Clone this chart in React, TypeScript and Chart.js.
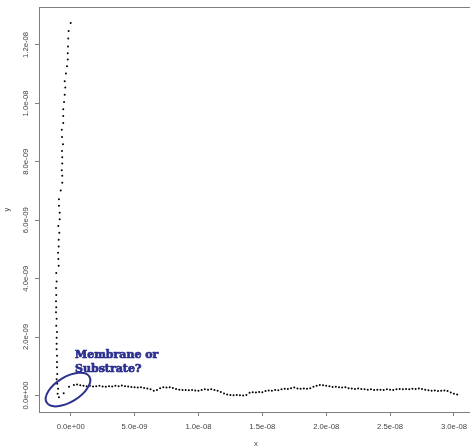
import React, { useEffect, useRef } from "react";
import { Chart, registerables } from "chart.js";

Chart.register(...registerables);

// Steep rising branch (x, y)
const riseX = [0.0, -0.16, -0.19, -0.21, -0.23, -0.23, -0.29, -0.37, -0.47, -0.42, -0.47, -0.52, -0.58, -0.58, -0.58, -0.70, -0.68, -0.60, -0.68, -0.66, -0.66, -0.70, -0.66, -0.66, -0.78, -0.92, -0.92, -0.86, -0.86, -0.97, -0.89, -0.94, -0.94, -0.99, -0.97, -0.94, -1.13, -1.10, -1.15, -1.13, -1.15, -1.13, -1.15, -1.10, -1.13, -1.07, -1.10, -1.10, -1.10, -1.07, -1.07, -1.07, -1.05, -1.10, -1.05, -0.99, -1.02, -0.92, -0.55, -0.13];
const riseY = [12.75, 12.48, 12.22, 11.95, 11.72, 11.50, 11.27, 11.02, 10.76, 10.54, 10.30, 10.05, 9.80, 9.57, 9.33, 9.10, 8.85, 8.60, 8.37, 8.16, 7.94, 7.71, 7.52, 7.28, 7.02, 6.72, 6.50, 6.26, 6.03, 5.80, 5.57, 5.33, 5.10, 4.89, 4.67, 4.44, 4.19, 3.90, 3.68, 3.44, 3.23, 3.02, 2.85, 2.63, 2.39, 2.17, 1.98, 1.77, 1.58, 1.36, 1.15, 0.97, 0.74, 0.56, 0.40, 0.23, 0.06, -0.06, 0.08, 0.30];

// Flat branch (x, y)
const flatX = [0.25, 0.5, 0.75, 1.0, 1.25, 1.5, 1.75, 2.0, 2.25, 2.5, 2.75, 3.0, 3.25, 3.5, 3.75, 4.0, 4.25, 4.5, 4.75, 5.0, 5.25, 5.5, 5.75, 6.0, 6.25, 6.5, 6.75, 7.0, 7.25, 7.5, 7.75, 8.0, 8.25, 8.5, 8.75, 9.0, 9.25, 9.5, 9.75, 10.0, 10.25, 10.5, 10.75, 11.0, 11.25, 11.5, 11.75, 12.0, 12.25, 12.5, 12.75, 13.0, 13.25, 13.5, 13.75, 14.0, 14.25, 14.5, 14.75, 15.0, 15.25, 15.5, 15.75, 16.0, 16.25, 16.5, 16.75, 17.0, 17.25, 17.5, 17.75, 18.0, 18.25, 18.5, 18.75, 19.0, 19.25, 19.5, 19.75, 20.0, 20.25, 20.5, 20.75, 21.0, 21.25, 21.5, 21.75, 22.0, 22.25, 22.5, 22.75, 23.0, 23.25, 23.5, 23.75, 24.0, 24.25, 24.5, 24.75, 25.0, 25.25, 25.5, 25.75, 26.0, 26.25, 26.5, 26.75, 27.0, 27.25, 27.5, 27.75, 28.0, 28.25, 28.5, 28.75, 29.0, 29.25, 29.5, 29.75, 30.0, 30.25];
const flatY = [0.36, 0.38, 0.35, 0.33, 0.32, 0.33, 0.31, 0.32, 0.33, 0.31, 0.30, 0.32, 0.31, 0.33, 0.32, 0.34, 0.32, 0.31, 0.29, 0.28, 0.27, 0.28, 0.26, 0.24, 0.21, 0.16, 0.19, 0.25, 0.28, 0.27, 0.28, 0.26, 0.22, 0.20, 0.19, 0.19, 0.18, 0.19, 0.17, 0.16, 0.19, 0.21, 0.20, 0.21, 0.19, 0.16, 0.12, 0.07, 0.03, 0.02, 0.01, 0.02, 0.01, 0.00, 0.02, 0.09, 0.11, 0.10, 0.12, 0.11, 0.15, 0.17, 0.16, 0.19, 0.18, 0.21, 0.23, 0.22, 0.25, 0.27, 0.24, 0.23, 0.24, 0.23, 0.25, 0.30, 0.33, 0.36, 0.35, 0.33, 0.32, 0.29, 0.30, 0.28, 0.27, 0.28, 0.25, 0.24, 0.22, 0.24, 0.22, 0.21, 0.20, 0.21, 0.19, 0.20, 0.20, 0.19, 0.21, 0.20, 0.19, 0.21, 0.22, 0.21, 0.22, 0.21, 0.23, 0.22, 0.24, 0.22, 0.20, 0.18, 0.16, 0.17, 0.15, 0.16, 0.17, 0.15, 0.10, 0.06, 0.03];

const UNIT = 1e-9;

const xTicks = [0, 5e-9, 1e-8, 1.5e-8, 2e-8, 2.5e-8, 3e-8];
const xTickLabels = ["0.0e+00", "5.0e-09", "1.0e-08", "1.5e-08", "2.0e-08", "2.5e-08", "3.0e-08"];
const yTicks = [0, 2e-9, 4e-9, 6e-9, 8e-9, 1e-8, 1.2e-8];
const yTickLabels = ["0.0e+00", "2.0e-09", "4.0e-09", "6.0e-09", "8.0e-09", "1.0e-08", "1.2e-08"];

const xRange = [-2.48e-9, 31.49e-9];
const yRange = [-0.565e-9, 13.3e-9];

const annotationLines = ["Membrane or", "Substrate?"];
const annotationCenter = [-0.21e-9, 0.205e-9];

export default function App() {
  const ref = useRef<HTMLCanvasElement | null>(null);

  useEffect(() => {
    const canvas = ref.current;
    if (!canvas) return;
    const points = [
      ...riseX.map((x, i) => ({ x: x * UNIT, y: riseY[i] * UNIT })),
      ...flatX.map((x, i) => ({ x: x * UNIT, y: flatY[i] * UNIT })),
    ];

    const axisColor = "#7f7f7f";
    const textColor = "#444444";
    const blue = "#2b2f8e";

    const decor = {
      id: "decor",
      afterDraw(chart: any) {
        const ctx = chart.ctx;
        const area = chart.chartArea;
        const xs = chart.scales.x;
        const ys = chart.scales.y;
        ctx.save();
        // top frame line
        ctx.strokeStyle = axisColor;
        ctx.lineWidth = 1;
        ctx.beginPath();
        ctx.moveTo(area.left, Math.round(area.top) + 0.5);
        ctx.lineTo(area.right, Math.round(area.top) + 0.5);
        ctx.stroke();

        ctx.fillStyle = textColor;
        ctx.font = "7.7px 'Liberation Sans', Arial, sans-serif";
        ctx.textAlign = "center";
        ctx.textBaseline = "middle";
        xTicks.forEach((v, i) => {
          ctx.fillText(xTickLabels[i], xs.getPixelForValue(v), area.bottom + 14.5);
        });
        yTicks.forEach((v, i) => {
          ctx.save();
          ctx.translate(area.left - 13, ys.getPixelForValue(v));
          ctx.rotate(-Math.PI / 2);
          ctx.fillText(yTickLabels[i], 0, 0);
          ctx.restore();
        });
        // axis titles
        ctx.fillText("x", (area.left + area.right) / 2, 444);
        ctx.save();
        ctx.translate(7, (area.top + area.bottom) / 2);
        ctx.rotate(-Math.PI / 2);
        ctx.fillText("y", 0, 0);
        ctx.restore();

        // annotation ellipse
        const cx = xs.getPixelForValue(annotationCenter[0]);
        const cy = ys.getPixelForValue(annotationCenter[1]);
        ctx.strokeStyle = blue;
        ctx.lineWidth = 2;
        ctx.beginPath();
        ctx.ellipse(cx, cy, 25, 12.5, -0.55, 0, Math.PI * 2);
        ctx.stroke();

        // annotation text
        ctx.fillStyle = blue;
        ctx.strokeStyle = blue;
        ctx.lineWidth = 0.7;
        ctx.lineJoin = "round";
        ctx.font = "bold 11px 'DejaVu Serif', serif";
        ctx.textAlign = "left";
        ctx.textBaseline = "alphabetic";
        const tx = cx + 7;
        ctx.fillText(annotationLines[0], tx, cy - 32);
        ctx.strokeText(annotationLines[0], tx, cy - 32);
        ctx.fillText(annotationLines[1], tx, cy - 18);
        ctx.strokeText(annotationLines[1], tx, cy - 18);
        ctx.restore();
      },
    };

    const chart = new Chart(canvas, {
      type: "scatter",
      data: {
        datasets: [
          {
            data: points,
            backgroundColor: "#000",
            borderWidth: 0,
            pointRadius: 1.0,
            pointHoverRadius: 1.0,
          },
        ],
      },
      options: {
        animation: false,
        responsive: false,
        devicePixelRatio: 1,
        events: [],
        layout: { padding: { left: 0, top: 7, right: 7, bottom: 0 } },
        plugins: { legend: { display: false }, tooltip: { enabled: false } },
        scales: {
          x: {
            type: "linear",
            min: xRange[0],
            max: xRange[1],
            afterBuildTicks: (s: any) => {
              s.ticks = xTicks.map((v) => ({ value: v }));
            },
            afterFit: (s: any) => {
              s.height = 36;
            },
            ticks: { display: false },
            grid: { drawOnChartArea: false, drawTicks: true, tickLength: 4, color: axisColor, lineWidth: 1 },
            border: { display: true, color: axisColor, width: 1 },
          },
          y: {
            type: "linear",
            min: yRange[0],
            max: yRange[1],
            afterBuildTicks: (s: any) => {
              s.ticks = yTicks.map((v) => ({ value: v }));
            },
            afterFit: (s: any) => {
              s.width = 39;
            },
            ticks: { display: false },
            grid: { drawOnChartArea: false, drawTicks: true, tickLength: 4, color: axisColor, lineWidth: 1 },
            border: { display: true, color: axisColor, width: 1 },
          },
        },
      },
      plugins: [decor],
    });
    return () => chart.destroy();
  }, []);

  return (
    <div style={{ position: "fixed", left: 0, top: 0, width: 470, height: 448, overflow: "hidden", background: "#fff" }}>
      <canvas ref={ref} width={480} height={448} style={{ width: 480, height: 448, display: "block" }} />
    </div>
  );
}
